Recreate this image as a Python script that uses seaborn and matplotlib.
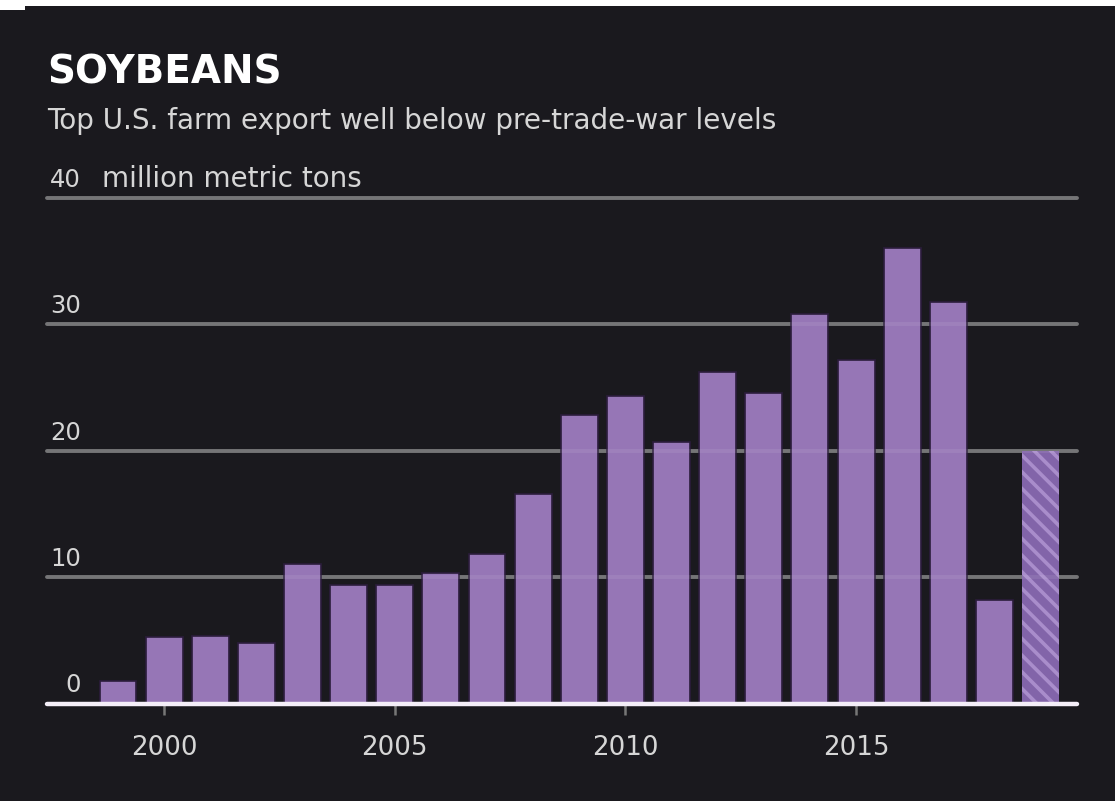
import matplotlib
matplotlib.use("Agg")
import matplotlib.pyplot as plt
import matplotlib.transforms as mtransforms
from matplotlib.patches import Rectangle
import seaborn as sns
import pandas as pd

# Annual U.S. soybean exports, million metric tons (last year is an estimate)
years = list(range(1999, 2020))
exports = [1.8, 5.25, 5.35, 4.8, 11.05, 9.4, 9.4, 10.3, 11.8, 16.6, 22.8,
           24.3, 20.7, 26.2, 24.6, 30.8, 27.2, 36.0, 31.8, 8.2, 20.0]
estimated = [False] * 20 + [True]
y_ticks = [0, 10, 20, 30, 40]
x_ticks = [2000, 2005, 2010, 2015]
title = "SOYBEANS"
subtitle = "Top U.S. farm export well below pre-trade-war levels"
unit = "million metric tons"

BG = "#1a191e"
BAR = "#9676b6"
BAR_EDGE = "#2b1c3b"
HATCH_BASE = "#8264a9"
HATCH_LINE = "#a98dcb"
GRID = "#6a6a6c"
TEXT = "#d6d6d6"

sns.set_theme(style="dark")
plt.rcParams["font.family"] = ["DejaVu Sans"]
plt.rcParams["hatch.linewidth"] = 2.6

W, H = 1115, 801
fig = plt.figure(figsize=(W / 100, H / 100), dpi=100, facecolor=BG)

# plot area: x from 47 to 1077 px, y from 0-line (703.5 px) to 40-line (197.9 px)
ax = fig.add_axes([47 / W, (H - 703.5) / H, 1030 / W, 505.6 / H])
ax.set_facecolor(BG)

df = pd.DataFrame({"year": years, "exports": exports, "estimated": estimated})
sns.barplot(data=df, x="year", y="exports", native_scale=True, color=BAR,
            saturation=1, width=0.8, edgecolor=BAR_EDGE, linewidth=1.2,
            errorbar=None, ax=ax, zorder=2)

# estimated year gets a striped fill
for patch, est in zip(ax.patches, df["estimated"]):
    if est:
        patch.set_facecolor(HATCH_BASE)
        patch.set_edgecolor(HATCH_LINE)
        patch.set_hatch("\\\\")
        patch.set_linewidth(0)

ax.set_xlim(1997.46, 2019.79)
ax.set_ylim(0, 40)

# horizontal gridlines
for v in y_ticks[1:]:
    ax.axhline(v, color=GRID, lw=2.8, zorder=1, clip_on=False)
    ax.axhline(v, color="white", lw=2.8, alpha=0.08, zorder=3, clip_on=False)
ax.axhline(0, color="#f4eef8", lw=3.2, zorder=5, clip_on=False)

for s in ax.spines.values():
    s.set_visible(False)

ax.set_xticks(x_ticks)
ax.set_xticklabels([str(x) for x in x_ticks])
ax.tick_params(axis="x", length=8, width=1.8, color="#777777", pad=15,
               labelsize=18.8, labelcolor=TEXT, bottom=True)
ax.set_yticks([])
ax.set_xlabel("")
ax.set_ylabel("")
ax.grid(False)

# value labels sit above their gridlines, right-aligned
trans = mtransforms.blended_transform_factory(ax.transAxes, ax.transData)
offset = mtransforms.ScaledTranslation(0, 8 / 72, fig.dpi_scale_trans)
for v in y_ticks:
    ax.text((81 - 47) / 1030, v, str(v), transform=trans + offset,
            ha="right", va="baseline", fontsize=17.5, color=TEXT)
ax.text((102 - 47) / 1030, 40, unit, transform=trans + offset,
        ha="left", va="baseline", fontsize=20, color=TEXT)

fig.text(47 / W, 1 - 83 / H, title, fontsize=28, fontweight="bold",
         color="white", ha="left", va="baseline")
fig.text(47 / W, 1 - 129 / H, subtitle, fontsize=20.1, color=TEXT,
         ha="left", va="baseline")

# white border strip along the top edge
fig.patches.append(Rectangle((0, 1 - 6 / H), 1, 6 / H, transform=fig.transFigure,
                             facecolor="white", edgecolor="none", zorder=10))
fig.patches.append(Rectangle((0, 1 - 10 / H), 25 / W, 10 / H, transform=fig.transFigure,
                             facecolor="white", edgecolor="none", zorder=10))

fig.savefig("out.png", dpi=100, facecolor=BG)
